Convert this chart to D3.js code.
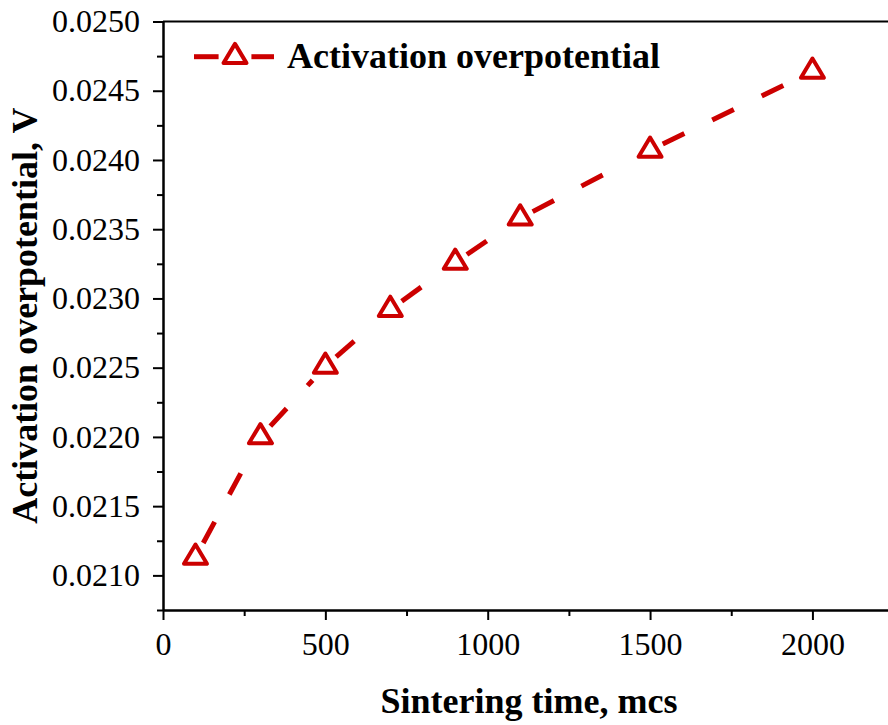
<!DOCTYPE html>
<html>
<head>
<meta charset="utf-8">
<script src="https://cdn.jsdelivr.net/npm/d3@7"></script>
<style>
  html, body { margin: 0; padding: 0; background: #fff; }
  svg { display: block; }
  svg text { font-family: "Liberation Serif", "Times New Roman", "DejaVu Serif", serif !important; }
</style>
</head>
<body>
<svg id="chart" width="888" height="725"></svg>
<script>
// ---------- data ----------
const sinteringTimes = [100, 300, 500, 700, 900, 1100, 1500, 2000];
const activationOverpotential = [0.02113, 0.02200, 0.02251, 0.02292, 0.02326, 0.02358, 0.02407, 0.02464];
const xTickValues = [0, 500, 1000, 1500, 2000];
const xMinorTickValues = [250, 750, 1250, 1750];
const yTickValues = [0.0210, 0.0215, 0.0220, 0.0225, 0.0230, 0.0235, 0.0240, 0.0245, 0.0250];
const yMinorTickValues = [0.02075, 0.02125, 0.02175, 0.02225, 0.02275, 0.02325, 0.02375, 0.02425, 0.02475];
const seriesName = "Activation overpotential";
const xTitle = "Sintering time, mcs";
const yTitle = "Activation overpotential, V";

// ---------- setup ----------
const RED = "#cc0000";
const FONT = "Liberation Serif, Times New Roman, serif";
const svg = d3.select("#chart");
svg.append("rect").attr("width", 888).attr("height", 725).attr("fill", "#fff");

const x = d3.scaleLinear().domain([0, 2250]).range([163, 893.6]);
const y = d3.scaleLinear().domain([0.02075, 0.0250]).range([610, 21.5]);

function styleAxis(g) {
  g.attr("font-family", null);
  g.select(".domain").attr("stroke", "#000").attr("stroke-width", 2);
  g.selectAll(".tick line").attr("stroke", "#000").attr("stroke-width", 2);
  g.selectAll(".tick text").style("font-family", FONT).style("font-size", "32px").attr("fill", "#000");
}

// minor ticks
svg.append("g").attr("transform", "translate(0,610)")
  .call(d3.axisBottom(x).tickValues(xMinorTickValues).tickSize(6).tickSizeOuter(0).tickFormat(""))
  .call(styleAxis);
svg.append("g").attr("transform", "translate(163,0)")
  .call(d3.axisLeft(y).tickValues(yMinorTickValues).tickSize(6).tickSizeOuter(0).tickFormat(""))
  .call(styleAxis);

// major axes
svg.append("g").attr("transform", "translate(0,610)")
  .call(d3.axisBottom(x).tickValues(xTickValues).tickSize(10).tickSizeOuter(0).tickPadding(12).tickFormat(d3.format("d")))
  .call(styleAxis);
svg.append("g").attr("transform", "translate(163,0)")
  .call(d3.axisLeft(y).tickValues(yTickValues).tickSize(10).tickSizeOuter(0).tickPadding(13).tickFormat(d3.format(".4f")))
  .call(styleAxis);

// top frame line
svg.append("line")
  .attr("x1", x.range()[0]).attr("x2", x.range()[1])
  .attr("y1", y.range()[1]).attr("y2", y.range()[1])
  .attr("stroke", "#000").attr("stroke-width", 2);

// ---------- marker geometry (anchor at centroid) ----------
const tri = [[0, -12.8], [11.5, 6.4], [-11.5, 6.4]];
const triPath = "M" + tri.map(p => p.join(",")).join("L") + "Z";
const edges = tri.map((a, i) => {
  const b = tri[(i + 1) % 3];
  const ex = b[0] - a[0], ey = b[1] - a[1];
  const len = Math.hypot(ex, ey);
  let nx = ey / len, ny = -ex / len;
  if (nx * (a[0]) + ny * (a[1]) < 0) { nx = -nx; ny = -ny; }
  return { a, nx, ny };
});
const GAP = 7.5;
function exitDist(dx, dy) {
  let best = Infinity;
  edges.forEach(e => {
    const dn = dx * e.nx + dy * e.ny;
    if (dn > 1e-6) {
      const t = (GAP + e.a[0] * e.nx + e.a[1] * e.ny) / dn;
      if (t < best) best = t;
    }
  });
  return best;
}

// ---------- dashed line segments broken around symbols ----------
const pts = sinteringTimes.map((t, i) => [x(t), y(activationOverpotential[i])]);
const segs = [];
for (let i = 0; i < pts.length - 1; i++) {
  const [x0, y0] = pts[i], [x1, y1] = pts[i + 1];
  const L = Math.hypot(x1 - x0, y1 - y0);
  const dx = (x1 - x0) / L, dy = (y1 - y0) / L;
  const s0 = exitDist(dx, dy);
  const s1 = L - exitDist(-dx, -dy);
  if (s1 > s0) segs.push({ x1: x0 + dx * s0, y1: y0 + dy * s0, x2: x0 + dx * s1, y2: y0 + dy * s1 });
}
svg.append("g").selectAll("line").data(segs).join("line")
  .attr("x1", d => d.x1).attr("y1", d => d.y1)
  .attr("x2", d => d.x2).attr("y2", d => d.y2)
  .attr("stroke", RED).attr("stroke-width", 5)
  .attr("stroke-dasharray", "24,31").attr("stroke-linecap", "butt");

// markers
svg.append("g").selectAll("path").data(pts).join("path")
  .attr("d", triPath)
  .attr("transform", d => `translate(${d[0]},${d[1]})`)
  .attr("fill", "none").attr("stroke", RED).attr("stroke-width", 4)
  .attr("stroke-linejoin", "round");

// ---------- legend ----------
const lg = { x0: 194, x1: 274, cx: 235, cy: 56.7 };
const gapL = exitDist(-1, 0), gapR = exitDist(1, 0);
const legendSegs = [[lg.x0, lg.cx - gapL], [lg.cx + gapR, lg.x1]];
svg.append("g").selectAll("line").data(legendSegs).join("line")
  .attr("x1", d => d[0]).attr("x2", d => d[1])
  .attr("y1", lg.cy).attr("y2", lg.cy)
  .attr("stroke", RED).attr("stroke-width", 5);
svg.append("path").attr("d", triPath)
  .attr("transform", `translate(${lg.cx},${lg.cy})`)
  .attr("fill", "none").attr("stroke", RED).attr("stroke-width", 4)
  .attr("stroke-linejoin", "round");
svg.append("text").attr("x", 287).attr("y", 68)
  .style("font-family", FONT).style("font-size", "36px").style("font-weight", "bold")
  .text(seriesName);

// ---------- axis titles ----------
svg.append("text").attr("x", 529).attr("y", 713).attr("text-anchor", "middle")
  .style("font-family", FONT).style("font-size", "36px").style("font-weight", "bold")
  .text(xTitle);
svg.append("text").attr("transform", "translate(37,315.7) rotate(-90)").attr("text-anchor", "middle")
  .style("font-family", FONT).style("font-size", "36px").style("font-weight", "bold")
  .text(yTitle);
</script>
</body>
</html>
